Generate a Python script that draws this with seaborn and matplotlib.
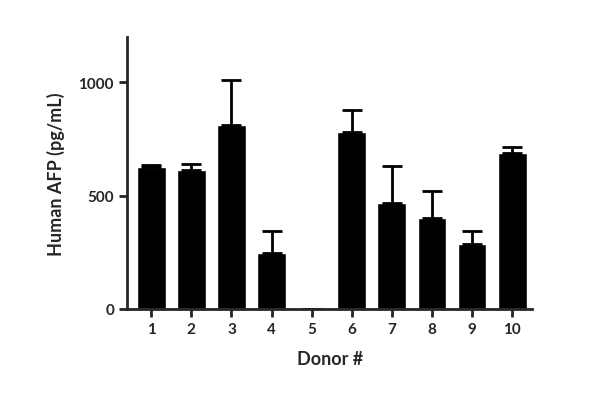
import matplotlib
matplotlib.use("Agg")
import matplotlib.pyplot as plt
import numpy as np
import pandas as pd
import seaborn as sns

donors = ["1", "2", "3", "4", "5", "6", "7", "8", "9", "10"]
afp = [628, 612, 812, 247, 0, 782, 470, 402, 285, 690]
err = [7, 28, 198, 96, 0, 98, 160, 120, 60, 25]

sns.set_theme(style="ticks")
plt.rcParams["font.family"] = ["Lato", "DejaVu Sans"]
plt.rcParams["font.weight"] = "bold"

df = pd.DataFrame({"donor": donors, "afp": afp})
fig = plt.figure(figsize=(6, 4.02), dpi=100)
ax = fig.add_axes([0.212, 0.229, 0.675, 0.676])
sns.barplot(data=df, x="donor", y="afp", color="black", width=0.72,
            saturation=1, ax=ax, errorbar=None)
x = np.arange(len(donors))
ax.errorbar(x, afp, yerr=[np.zeros(len(err)), err], fmt="none",
            ecolor="black", elinewidth=2, capsize=7, capthick=2)

ax.set_ylim(0, 1200)
ax.set_xlim(-0.6, 9.5)
ax.set_yticks([0, 500, 1000])
ax.set_xlabel("Donor #", fontsize=13, fontweight="bold", labelpad=10)
ax.set_ylabel("Human AFP (pg/mL)", fontsize=13, fontweight="bold", labelpad=10)
ax.tick_params(labelsize=11, width=2, length=6, direction="out")
for lab in ax.get_xticklabels() + ax.get_yticklabels():
    lab.set_fontweight("bold")
for s in ["left", "bottom"]:
    ax.spines[s].set_linewidth(2)
sns.despine(ax=ax)
fig.savefig("out.png", dpi=100)
